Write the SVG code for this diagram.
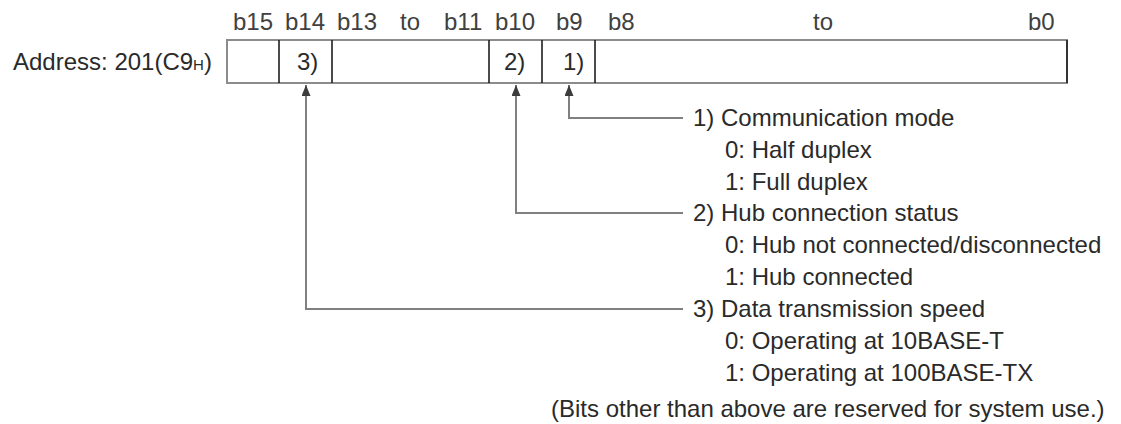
<svg xmlns="http://www.w3.org/2000/svg" width="1121" height="424" viewBox="0 0 1121 424">
  <style>
    text { font-family: "Liberation Sans", Arial, sans-serif; font-size: 24px; fill: #2a2a2a; }
    .hdr { fill: #404040; }
    .box { fill: #ffffff; stroke: #8c8c8c; stroke-width: 2; }
    .div { stroke: #1e1e1e; stroke-width: 1.6; }
    .conn { fill: none; stroke: #808080; stroke-width: 2; }
  </style>
  <defs>
    <marker id="arr" viewBox="0 0 11 9" refX="11" refY="4.5" markerWidth="11" markerHeight="9" markerUnits="userSpaceOnUse" orient="auto-start-reverse">
      <path d="M0,0 L11,4.5 L0,9 z" fill="#3c3c3c"/>
    </marker>
  </defs>
  <rect width="1121" height="424" fill="#ffffff"/>

  <g id="header">
    <text class="hdr" x="233" y="30">b15</text>
    <text class="hdr" x="285" y="30">b14</text>
    <text class="hdr" x="337" y="30">b13</text>
    <text class="hdr" x="400" y="30">to</text>
    <text class="hdr" x="444" y="30">b11</text>
    <text class="hdr" x="495" y="30">b10</text>
    <text class="hdr" x="556" y="30">b9</text>
    <text class="hdr" x="608" y="30">b8</text>
    <text class="hdr" x="813" y="30">to</text>
    <text class="hdr" x="1028" y="30">b0</text>
  </g>

  <g id="address-label">
    <text x="13" y="70">Address: 201(C9<tspan font-size="15">H</tspan>)</text>
  </g>

  <g id="register">
    <rect class="box" x="227" y="40" width="840" height="43"/>
    <line class="div" x1="279" y1="40" x2="279" y2="83"/>
    <line class="div" x1="332" y1="40" x2="332" y2="83"/>
    <line class="div" x1="489" y1="40" x2="489" y2="83"/>
    <line class="div" x1="542" y1="40" x2="542" y2="83"/>
    <line class="div" x1="595" y1="40" x2="595" y2="83"/>
    <line class="div" x1="1067" y1="40" x2="1067" y2="83"/>
    <text x="297" y="70">3)</text>
    <text x="504" y="70">2)</text>
    <text x="563" y="70">1)</text>
  </g>

  <g id="connectors">
    <path class="conn" d="M569,85 V118 H683" marker-start="url(#arr)"/>
    <path class="conn" d="M516,85 V213 H683" marker-start="url(#arr)"/>
    <path class="conn" d="M306,85 V309 H683" marker-start="url(#arr)"/>
  </g>

  <g id="item1">
    <text x="693" y="126">1) Communication mode</text>
    <text x="725" y="158">0: Half duplex</text>
    <text x="725" y="190">1: Full duplex</text>
  </g>

  <g id="item2">
    <text x="693" y="221">2) Hub connection status</text>
    <text x="725" y="253">0: Hub not connected/disconnected</text>
    <text x="725" y="285">1: Hub connected</text>
  </g>

  <g id="item3">
    <text x="693" y="317">3) Data transmission speed</text>
    <text x="725" y="349">0: Operating at 10BASE-T</text>
    <text x="725" y="381">1: Operating at 100BASE-TX</text>
  </g>

  <g id="note">
    <text x="551" y="417">(Bits other than above are reserved for system use.)</text>
  </g>
</svg>
